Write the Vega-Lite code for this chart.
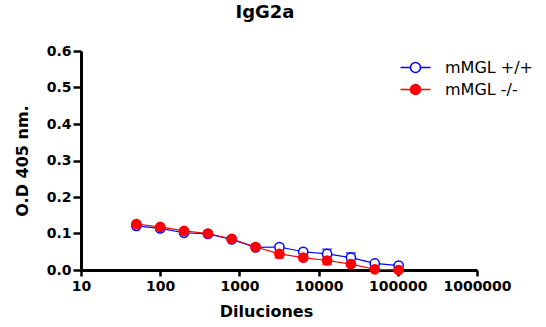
{
  "$schema": "https://vega.github.io/schema/vega-lite/v6.json",
  "width": 396,
  "height": 219,
  "autosize": {"type": "none"},
  "padding": {"left": 81, "top": 51, "right": 69, "bottom": 57},
  "background": "white",
  "title": {
    "text": "IgG2a",
    "font": "DejaVu Sans",
    "fontSize": 18,
    "fontWeight": "bold",
    "color": "black",
    "offset": 22,
    "dx": -14
  },
  "data": {
    "values": [
      {"dil": 50, "group": "mMGL +/+", "od": 0.121},
      {"dil": 100, "group": "mMGL +/+", "od": 0.114},
      {"dil": 200, "group": "mMGL +/+", "od": 0.102},
      {"dil": 400, "group": "mMGL +/+", "od": 0.099},
      {"dil": 800, "group": "mMGL +/+", "od": 0.084},
      {"dil": 1600, "group": "mMGL +/+", "od": 0.062},
      {"dil": 3200, "group": "mMGL +/+", "od": 0.063},
      {"dil": 6400, "group": "mMGL +/+", "od": 0.050},
      {"dil": 12800, "group": "mMGL +/+", "od": 0.044, "lo": 0.031, "hi": 0.057},
      {"dil": 25600, "group": "mMGL +/+", "od": 0.034, "lo": 0.021, "hi": 0.047},
      {"dil": 51200, "group": "mMGL +/+", "od": 0.018},
      {"dil": 102400, "group": "mMGL +/+", "od": 0.012},
      {"dil": 50, "group": "mMGL -/-", "od": 0.126},
      {"dil": 100, "group": "mMGL -/-", "od": 0.118},
      {"dil": 200, "group": "mMGL -/-", "od": 0.107},
      {"dil": 400, "group": "mMGL -/-", "od": 0.100},
      {"dil": 800, "group": "mMGL -/-", "od": 0.085},
      {"dil": 1600, "group": "mMGL -/-", "od": 0.063},
      {"dil": 3200, "group": "mMGL -/-", "od": 0.044, "lo": 0.033, "hi": 0.055},
      {"dil": 6400, "group": "mMGL -/-", "od": 0.034},
      {"dil": 12800, "group": "mMGL -/-", "od": 0.026, "lo": 0.015, "hi": 0.037},
      {"dil": 25600, "group": "mMGL -/-", "od": 0.016, "lo": 0.011, "hi": 0.021},
      {"dil": 51200, "group": "mMGL -/-", "od": 0.002},
      {"dil": 102400, "group": "mMGL -/-", "od": 0.000}
    ]
  },
  "encoding": {
    "x": {
      "field": "dil",
      "type": "quantitative",
      "scale": {"type": "log", "domain": [10, 1000000], "nice": false},
      "axis": {
        "title": "Diluciones",
        "values": [10, 100, 1000, 10000, 100000, 1000000],
        "format": "d",
        "titleX": 185,
        "titlePadding": 10
      }
    }
  },
  "layer": [
    {
      "transform": [{"filter": "datum.lo != null"}],
      "mark": {"type": "rule", "strokeWidth": 1.5},
      "encoding": {
        "y": {"field": "lo", "type": "quantitative", "scale": {"domain": [0, 0.6], "nice": false}, "axis": {"title": "O.D 405 nm.", "values": [0, 0.1, 0.2, 0.3, 0.4, 0.5, 0.6], "format": ".1f", "titlePadding": 16}},
        "y2": {"field": "hi"},
        "color": {"field": "group", "type": "nominal", "legend": null}
      }
    },
    {
      "transform": [{"filter": "datum.lo != null"}],
      "mark": {"type": "tick", "orient": "horizontal", "size": 10, "thickness": 1.5},
      "encoding": {
        "y": {"field": "lo", "type": "quantitative", "scale": {"domain": [0, 0.6], "nice": false}, "axis": {"title": "O.D 405 nm.", "values": [0, 0.1, 0.2, 0.3, 0.4, 0.5, 0.6], "format": ".1f", "titlePadding": 16}},
        "color": {"field": "group", "type": "nominal", "legend": null}
      }
    },
    {
      "transform": [{"filter": "datum.lo != null"}],
      "mark": {"type": "tick", "orient": "horizontal", "size": 10, "thickness": 1.5},
      "encoding": {
        "y": {"field": "hi", "type": "quantitative", "scale": {"domain": [0, 0.6], "nice": false}, "axis": {"title": "O.D 405 nm.", "values": [0, 0.1, 0.2, 0.3, 0.4, 0.5, 0.6], "format": ".1f", "titlePadding": 16}},
        "color": {"field": "group", "type": "nominal", "legend": null}
      }
    },
    {
      "mark": {"type": "line", "strokeWidth": 1.2},
      "encoding": {
        "y": {"field": "od", "type": "quantitative", "scale": {"domain": [0, 0.6], "nice": false}, "axis": {"title": "O.D 405 nm.", "values": [0, 0.1, 0.2, 0.3, 0.4, 0.5, 0.6], "format": ".1f", "titlePadding": 16}},
        "color": {"field": "group", "type": "nominal", "legend": null}
      }
    },
    {
      "mark": {"type": "point", "shape": "circle", "filled": true, "size": 85, "strokeWidth": 1.5, "opacity": 1},
      "encoding": {
        "y": {"field": "od", "type": "quantitative", "scale": {"domain": [0, 0.6], "nice": false}, "axis": {"title": "O.D 405 nm.", "values": [0, 0.1, 0.2, 0.3, 0.4, 0.5, 0.6], "format": ".1f", "titlePadding": 16}},
        "stroke": {
          "field": "group",
          "type": "nominal",
          "scale": {"domain": ["mMGL +/+", "mMGL -/-"], "range": ["#0000ff", "#ff0000"]},
          "legend": {
            "title": null,
            "orient": "none",
            "legendX": 321,
            "legendY": 3,
            "symbolType": "M-1.2,0L-0.4,0M0.4,0L1.2,0M-0.4,0A0.4,0.4 0 1,0 0.4,0A0.4,0.4 0 1,0 -0.4,0Z",
            "symbolSize": 625,
            "symbolStrokeWidth": 1.5,
            "labelFont": "DejaVu Sans",
            "labelFontSize": 16,
            "labelColor": "black",
            "labelOffset": 16,
            "rowPadding": 0
          }
        },
        "fill": {
          "field": "group",
          "type": "nominal",
          "scale": {"domain": ["mMGL +/+", "mMGL -/-"], "range": ["#ffffff", "#ff0000"]},
          "legend": {
            "title": null,
            "orient": "none",
            "legendX": 321,
            "legendY": 3,
            "symbolType": "M-1.2,0L-0.4,0M0.4,0L1.2,0M-0.4,0A0.4,0.4 0 1,0 0.4,0A0.4,0.4 0 1,0 -0.4,0Z",
            "symbolSize": 625,
            "symbolStrokeWidth": 1.5,
            "labelFont": "DejaVu Sans",
            "labelFontSize": 16,
            "labelColor": "black",
            "labelOffset": 16,
            "rowPadding": 0
          }
        }
      }
    }
  ],
  "config": {
    "view": {"stroke": null},
    "range": {"category": ["#0000ff", "#ff0000"]},
    "axis": {
      "grid": false,
      "domainColor": "black",
      "domainWidth": 3,
      "tickColor": "black",
      "tickWidth": 2.5,
      "tickSize": 6,
      "labelColor": "black",
      "labelFont": "DejaVu Sans",
      "labelFontSize": 14,
      "labelFontWeight": "bold",
      "labelPadding": 3,
      "labelFlush": false,
      "titleColor": "black",
      "titleFont": "DejaVu Sans",
      "titleFontSize": 16,
      "titleFontWeight": "bold"
    },
    "axisY": {
      "tickSize": 8,
      "labelPadding": 2
    }
  }
}
